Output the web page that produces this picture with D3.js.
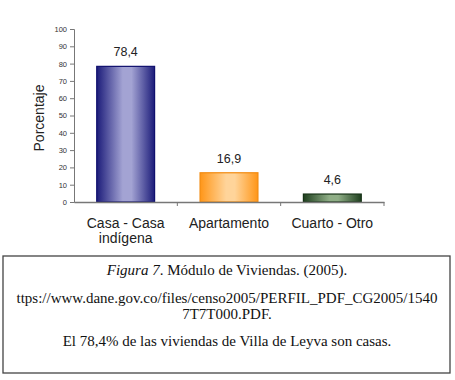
<!DOCTYPE html>
<html>
<head>
<meta charset="utf-8">
<script src="https://cdn.jsdelivr.net/npm/d3@7"></script>
<style>
  body { margin: 0; background: #fff; }
  svg { display: block; }
</style>
</head>
<body>
<div id="chart"></div>
<script>
// chart values
const categories = ["Casa - Casa indígena", "Apartamento", "Cuarto - Otro"];
const catLines = [["Casa - Casa", "indígena"], ["Apartamento"], ["Cuarto - Otro"]];
const values = [78.4, 16.9, 4.6];
const valueLabels = ["78,4", "16,9", "4,6"];
const yTicks = [0, 10, 20, 30, 40, 50, 60, 70, 80, 90, 100];
const yTitle = "Porcentaje";
const captionLines = [
  "ttps://www.dane.gov.co/files/censo2005/PERFIL_PDF_CG2005/1540",
  "7T7T000.PDF.",
  "El 78,4% de las viviendas de Villa de Leyva son casas."
];

// bar gradients: [edge, centre, outline]
const barColors = [
  ["#1c1c7a", "#a3a3d3", "#10106e"],
  ["#ff9618", "#ffd49a", "#f28a10"],
  ["#1e3f1e", "#8fae86", "#163216"]
];

const width = 455, height = 380;
const plot = { left: 74, right: 384, top: 29, bottom: 202 };

const svg = d3.select("#chart").append("svg")
  .attr("width", width)
  .attr("height", height);

const defs = svg.append("defs");
barColors.forEach((c, i) => {
  const g = defs.append("linearGradient")
    .attr("id", "grad" + i)
    .attr("x1", "0%").attr("x2", "100%")
    .attr("y1", "0%").attr("y2", "0%");
  g.append("stop").attr("offset", "0%").attr("stop-color", c[0]);
  g.append("stop").attr("offset", "45%").attr("stop-color", c[1]);
  g.append("stop").attr("offset", "60%").attr("stop-color", c[1]);
  g.append("stop").attr("offset", "100%").attr("stop-color", c[0]);
});

const x = d3.scaleBand()
  .domain(categories)
  .range([plot.left, plot.right])
  .paddingInner(0.44)
  .paddingOuter(0.22);

const y = d3.scaleLinear()
  .domain([0, 100])
  .range([plot.bottom, plot.top]);

// y axis
const yAxis = svg.append("g")
  .attr("transform", `translate(${plot.left},0)`)
  .call(d3.axisLeft(y).tickValues(yTicks).tickSize(4).tickPadding(3));
yAxis.select(".domain").attr("stroke", "#777");
yAxis.selectAll(".tick line").attr("stroke", "#777");
yAxis.selectAll(".tick text")
  .attr("font-family", "Liberation Sans, Arial, sans-serif")
  .attr("font-size", 7.5)
  .attr("fill", "#333");

// bars
svg.append("g").selectAll("rect")
  .data(values)
  .join("rect")
  .attr("x", (d, i) => x(categories[i]))
  .attr("y", d => y(d))
  .attr("width", x.bandwidth())
  .attr("height", d => y(0) - y(d))
  .attr("fill", (d, i) => `url(#grad${i})`)
  .attr("stroke", (d, i) => barColors[i][2])
  .attr("stroke-width", 1.2);

// x axis (drawn after bars so the baseline sits on top)
const outer = d3.scaleBand().domain(categories).range([plot.left, plot.right]);
const xAxis = svg.append("g")
  .attr("transform", `translate(0,${plot.bottom})`)
  .call(d3.axisBottom(outer).tickSize(0).tickFormat(""));
xAxis.select(".domain").attr("stroke", "#777").attr("stroke-width", 1.5);
xAxis.selectAll(".sep")
  .data(categories.map((c, i) => outer(c) + outer.bandwidth()))
  .join("line")
  .attr("x1", d => d).attr("x2", d => d)
  .attr("y1", 0).attr("y2", 4)
  .attr("stroke", "#777");

// category labels
svg.append("g").selectAll("text")
  .data(catLines)
  .join("text")
  .attr("text-anchor", "middle")
  .attr("font-family", "Liberation Sans, Arial, sans-serif")
  .attr("font-size", 14)
  .attr("fill", "#222")
  .each(function (lines, i) {
    const t = d3.select(this);
    lines.forEach((l, j) => {
      t.append("tspan")
        .attr("x", x(categories[i]) + x.bandwidth() / 2)
        .attr("y", 228 + j * 15)
        .text(l);
    });
  });

// value labels
svg.append("g").selectAll("text")
  .data(values)
  .join("text")
  .attr("x", (d, i) => x(categories[i]) + x.bandwidth() / 2)
  .attr("y", d => y(d) - 10)
  .attr("text-anchor", "middle")
  .attr("font-family", "Liberation Sans, Arial, sans-serif")
  .attr("font-size", 12.5)
  .attr("fill", "#222")
  .text((d, i) => valueLabels[i]);

// y title
svg.append("text")
  .attr("transform", `translate(44,118) rotate(-90)`)
  .attr("text-anchor", "middle")
  .attr("font-family", "Liberation Sans, Arial, sans-serif")
  .attr("font-size", 14)
  .attr("fill", "#222")
  .text(yTitle);

// caption box
svg.append("rect")
  .attr("x", 3).attr("y", 256)
  .attr("width", 447).attr("height", 117)
  .attr("fill", "none")
  .attr("stroke", "#444")
  .attr("stroke-width", 1.3);

const cap = svg.append("g")
  .attr("font-family", "Liberation Serif, Times New Roman, serif")
  .attr("font-size", 15)
  .attr("fill", "#111")
  .attr("text-anchor", "middle");

const first = cap.append("text").attr("x", 227).attr("y", 275);
first.append("tspan").attr("font-style", "italic").text("Figura 7");
first.append("tspan").text(". Módulo de Viviendas. (2005).");

cap.selectAll(".line")
  .data(captionLines)
  .join("text")
  .attr("x", 227)
  .attr("y", (d, i) => [303, 319, 346][i])
  .text(d => d);
</script>
</body>
</html>
